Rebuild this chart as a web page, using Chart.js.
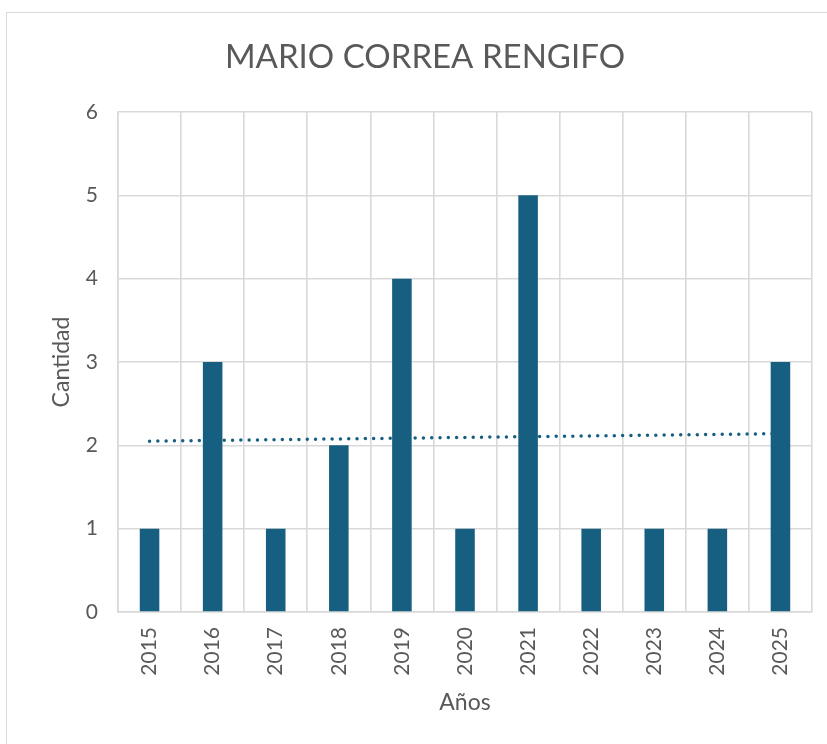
<!DOCTYPE html>
<html>
<head>
<meta charset="utf-8">
<script src="https://cdn.jsdelivr.net/npm/chart.js@4/dist/chart.umd.min.js"></script>
<style>
  html, body { margin: 0; padding: 0; background: #fff; }
  #wrap { position: relative; width: 827px; height: 744px; overflow: hidden; }
  #frame { position: absolute; left: 6px; top: 12px; width: 830px; height: 740px; border: 1px solid #d9d9d9; }
  #chart { position: absolute; left: 0; top: 0; }
</style>
</head>
<body>
<div id="wrap">
  <div id="frame"></div>
  <canvas id="chart" width="827" height="744"></canvas>
</div>
<script>
// datos del grafico
const years = ['2015', '2016', '2017', '2018', '2019', '2020', '2021', '2022', '2023', '2024', '2025'];
const counts = [1, 3, 1, 2, 4, 1, 5, 1, 1, 1, 3];
// linea de tendencia: solo los extremos
const trend = [2.05, null, null, null, null, null, null, null, null, null, 2.14];
const yTicks = [0, 1, 2, 3, 4, 5, 6];

const grey = '#595959';
const gridGrey = '#d9d9d9';
const barBlue = '#175f80';
const fontFam = 'Lato, "Open Sans", sans-serif';

const ctx = document.getElementById('chart').getContext('2d');
new Chart(ctx, {
    data: {
        labels: years,
        datasets: [
            {
                type: 'bar',
                data: counts,
                backgroundColor: barBlue,
                barPercentage: 0.31,
                categoryPercentage: 1,
                order: 1
            },
            {
                type: 'line',
                data: trend,
                spanGaps: true,
                borderColor: barBlue,
                borderWidth: 3.5,
                borderDash: [0, 8.3],
                borderCapStyle: 'round',
                pointRadius: 0,
                fill: false,
                order: 2
            }
        ]
    },
    options: {
        responsive: false,
        animation: false,
        // el titulo se centra sobre el marco, no sobre el area del grafico
        layout: { padding: { left: 38, right: 15, top: 0, bottom: 0 } },
        plugins: {
            legend: { display: false },
            tooltip: { enabled: false },
            title: {
                display: true,
                text: 'MARIO CORREA RENGIFO',
                color: grey,
                font: { family: fontFam, size: 33, weight: 'normal' },
                padding: { top: 38, bottom: 34.4 }
            }
        },
        scales: {
            x: {
                grid: { color: gridGrey, lineWidth: 1.6, drawTicks: false, offset: true },
                border: { color: gridGrey, width: 1.6 },
                ticks: {
                    color: grey,
                    font: { family: fontFam, size: 21 },
                    minRotation: 90,
                    maxRotation: 90,
                    padding: 15
                },
                title: {
                    display: true,
                    text: 'Años',
                    color: grey,
                    font: { family: fontFam, size: 23 },
                    padding: { top: 0, bottom: 28 }
                },
                afterFit: (scale) => { scale.height = 132; }
            },
            y: {
                min: 0,
                max: 6,
                afterBuildTicks: (scale) => { scale.ticks = yTicks.map(v => ({ value: v })); },
                grid: { color: gridGrey, lineWidth: 1.6, drawTicks: false },
                border: { color: gridGrey, width: 1.6 },
                ticks: {
                    color: grey,
                    font: { family: fontFam, size: 21 },
                    padding: 20
                },
                title: {
                    display: true,
                    text: 'Cantidad',
                    color: grey,
                    font: { family: fontFam, size: 23 },
                    padding: { top: 10, bottom: 0 }
                },
                afterFit: (scale) => { scale.width = 80; }
            }
        }
    }
});
</script>
</body>
</html>
